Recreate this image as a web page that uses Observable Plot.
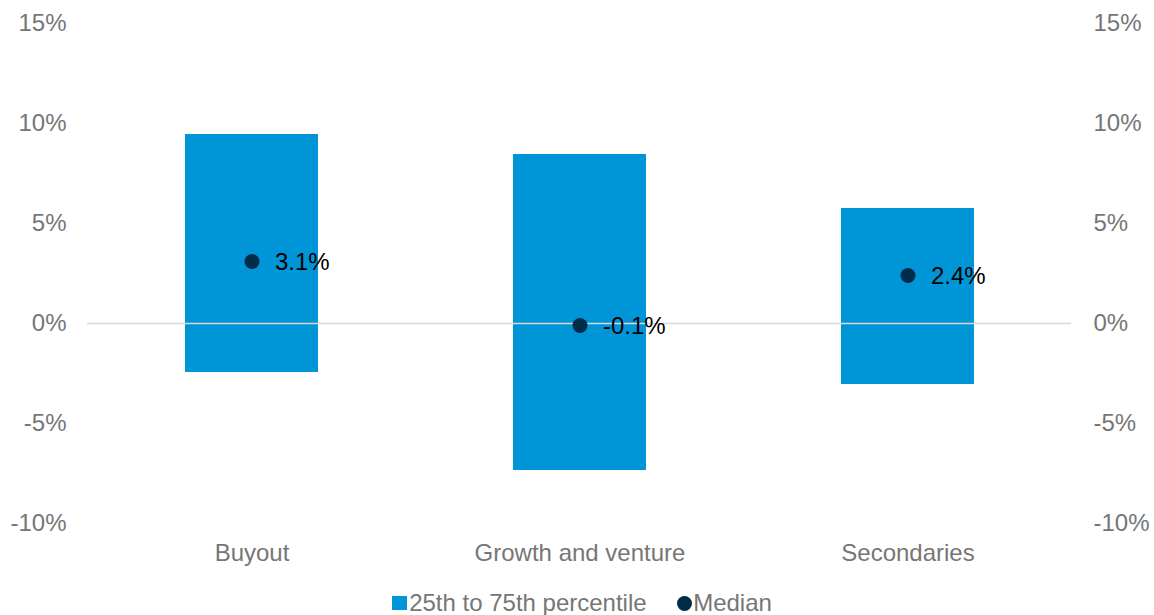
<!DOCTYPE html>
<html>
<head>
<meta charset="utf-8">
<script src="https://cdn.jsdelivr.net/npm/d3@7"></script>
<script src="https://cdn.jsdelivr.net/npm/@observablehq/plot@0.6"></script>
<style>
  html, body { margin: 0; padding: 0; background: #fff; }
  body { width: 1154px; height: 615px; overflow: hidden; font-family: "Liberation Sans", Arial, sans-serif; }
  #chart svg { display: block; }
  .legend { display: flex; justify-content: center; align-items: center; height: 35px; padding-top: 11px; box-sizing: border-box;
    font-size: 24px; line-height: 24px; color: #767676; margin-left: 10px; }
  .legend .item { display: flex; align-items: center; }
  .legend .sw { width: 14.5px; height: 14.5px; background: #0095d6; margin-right: 2.5px; }
  .legend .dt { width: 15px; height: 15px; border-radius: 50%; background: #002b49; margin-right: 1.5px; }
  .legend .gap { width: 30px; }
</style>
</head>
<body>
<div id="chart"></div>
<div class="legend">
  <div class="item"><div class="sw"></div><span>25th to 75th percentile</span></div>
  <div class="gap"></div>
  <div class="item"><div class="dt"></div><span>Median</span></div>
</div>
<script>
const categories = ["Buyout", "Growth and venture", "Secondaries"];
const p25 = [-2.45, -7.35, -3.05];
const p75 = [9.45, 8.45, 5.75];
const median = [3.1, -0.1, 2.4];
const yTicks = [-10, -5, 0, 5, 10, 15];

const data = categories.map((c, i) => ({cat: c, lo: p25[i], hi: p75[i], med: median[i]}));

const fmt = d => d + "%";

const chart = Plot.plot({
  width: 1154,
  height: 580,
  marginLeft: 87,
  marginRight: 83,
  marginTop: 23,
  marginBottom: 57,
  style: {fontFamily: "'Liberation Sans', Arial, sans-serif", fontSize: "24px", color: "#767676", background: "#fff"},
  x: {type: "band", domain: categories, paddingInner: 0.595, paddingOuter: 0.2975, align: 0.5},
  y: {domain: [-10, 15]},
  marks: [
    Plot.barY(data, {x: "cat", y1: "lo", y2: "hi", fill: "#0095d6"}),
    Plot.ruleY([0], {stroke: "#d9d9d9", strokeWidth: 1.5}),
    Plot.dot(data, {x: "cat", y: "med", r: 7.5, fill: "#002b49", stroke: "none"}),
    Plot.text(data, {x: "cat", y: "med", text: d => d.med.toFixed(1) + "%", textAnchor: "start", dx: 23, dy: 1, fill: "#000", fontSize: 24}),
    Plot.axisY(yTicks, {anchor: "left", tickSize: 0, tickPadding: 21, tickFormat: fmt, label: null}),
    Plot.axisY(yTicks, {anchor: "right", tickSize: 0, tickPadding: 22, tickFormat: fmt, label: null}),
    Plot.axisX({tickSize: 0, tickPadding: 20, label: null})
  ]
});
document.getElementById("chart").appendChild(chart);
</script>
</body>
</html>
